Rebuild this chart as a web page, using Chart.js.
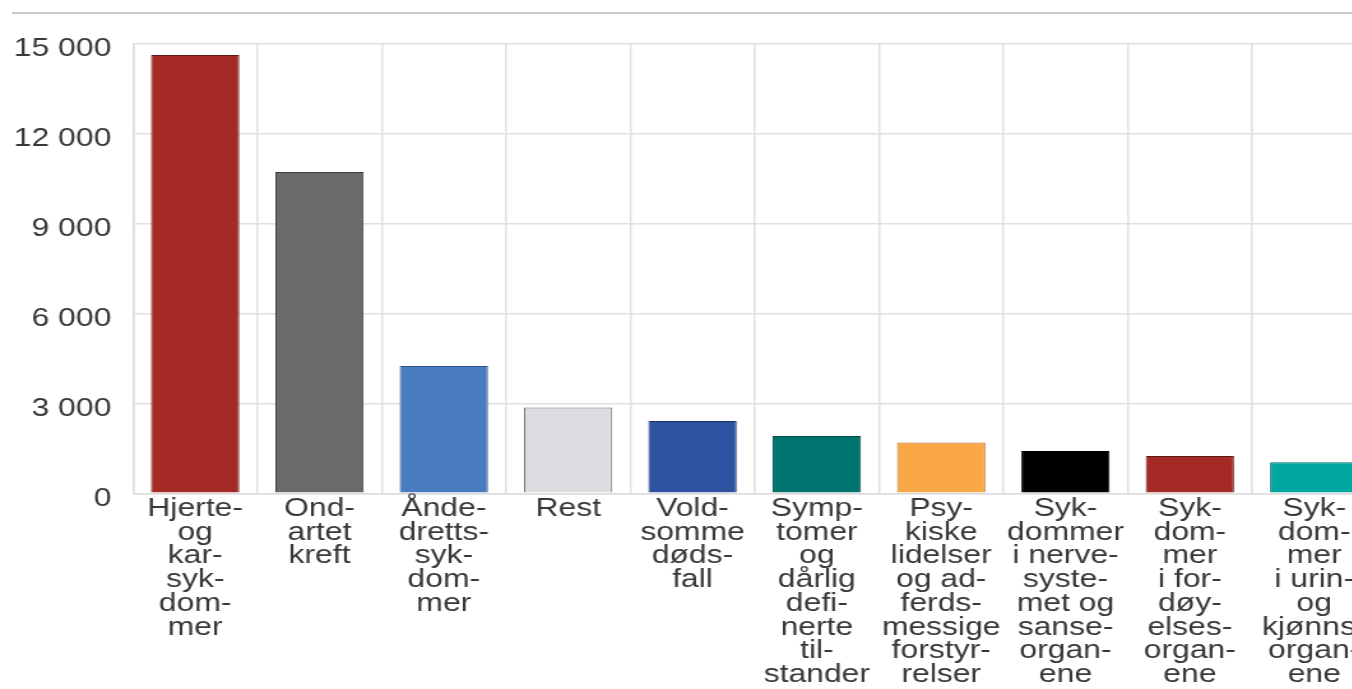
<!DOCTYPE html>
<html>
<head>
<meta charset="utf-8">
<script src="https://cdn.jsdelivr.net/npm/chart.js@4/dist/chart.umd.min.js"></script>
<style>
  html, body { margin: 0; padding: 0; background: #ffffff; overflow: hidden; width: 1352px; height: 689px; }
  #topline { position: absolute; left: 12px; top: 12px; width: 1340px; height: 2px; background: #c9cbc9; }
  #wrap { position: absolute; left: 0; top: 0; width: 1090px; height: 689px; transform: scaleX(1.275); transform-origin: 0 0; }
</style>
</head>
<body>
<div id="topline"></div>
<div id="wrap"><canvas id="c"></canvas></div>
<script>
const categories = [
  ["Hjerte-", "og", "kar-", "syk-", "dom-", "mer"],
  ["Ond-", "artet", "kreft"],
  ["Ånde-", "dretts-", "syk-", "dom-", "mer"],
  ["Rest"],
  ["Vold-", "somme", "døds-", "fall"],
  ["Symp-", "tomer", "og", "dårlig", "defi-", "nerte", "til-", "stander"],
  ["Psy-", "kiske", "lidelser", "og ad-", "ferds-", "messige", "forstyr-", "relser"],
  ["Syk-", "dommer", "i nerve-", "syste-", "met og", "sanse-", "organ-", "ene"],
  ["Syk-", "dom-", "mer", "i for-", "døy-", "elses-", "organ-", "ene"],
  ["Syk-", "dom-", "mer", "i urin-", "og", "kjønns-", "organ-", "ene"]
];
const deaths = [14610, 10710, 4240, 2860, 2410, 1910, 1690, 1410, 1245, 1035];
const yTicks = [0, 3000, 6000, 9000, 12000, 15000];
const barColors = ["#a52a25", "#6a6a6c", "#4a7cc0", "#dcdde0", "#2c52a0", "#00746f", "#f9a845", "#000000", "#a52a25", "#00a6a2"];
const barBorders = ["#5e1815", "#3c3c3e", "#2f5284", "#6e6e70", "#1b3468", "#004a47", "#a87020", "#000000", "#5e1815", "#006b68"];

const fmt = v => String(v).replace(/\B(?=(\d{3})+(?!\d))/g, " ");

new Chart(document.getElementById("c"), {
  type: "bar",
  data: {
    labels: categories,
    datasets: [{
      data: deaths,
      backgroundColor: barColors,
      borderColor: barBorders,
      borderWidth: 1,
      barPercentage: 0.71,
      categoryPercentage: 1.0
    }]
  },
  options: {
    responsive: true,
    maintainAspectRatio: false,
    animation: false,
    layout: { padding: { top: 43.3, right: 10.5, bottom: 0, left: 0 } },
    plugins: { legend: { display: false }, tooltip: { enabled: false } },
    scales: {
      x: {
        grid: { color: "#e0e0e0", lineWidth: 1.5, drawTicks: false, offset: true },
        border: { color: "#dcdcdc", width: 1.5 },
        ticks: {
          autoSkip: false, maxRotation: 0, minRotation: 0,
          color: "#383838",
          font: { family: "'Liberation Sans', Arial, sans-serif", size: 25, lineHeight: "23.7px" },
          padding: 4
        },
        afterFit: s => { s.height = 689 - 493.3; }
      },
      y: {
        min: 0, max: 15000,
        afterBuildTicks: s => { s.ticks = yTicks.map(v => ({ value: v })); },
        grid: { color: "#e0e0e0", lineWidth: 1.5, drawTicks: false },
        border: { color: "#dcdcdc", width: 1.5 },
        ticks: {
          color: "#383838",
          font: { family: "'Liberation Sans', Arial, sans-serif", size: 25 },
          padding: 17,
          labelOffset: 6,
          callback: v => fmt(v)
        },
        afterFit: s => { s.width = 104.3; }
      }
    }
  }
});
</script>
</body>
</html>
